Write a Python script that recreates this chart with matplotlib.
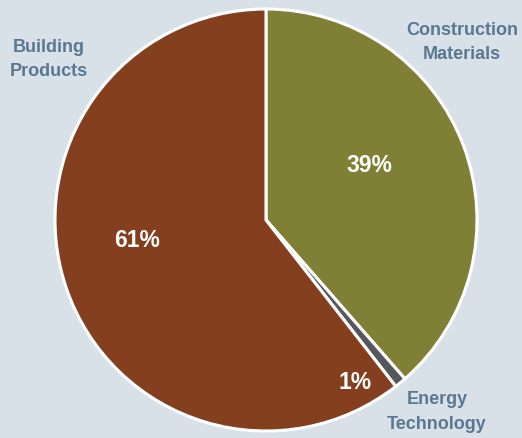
import matplotlib.pyplot as plt

segments = ['Construction\nMaterials', 'Energy\nTechnology', 'Building\nProducts']
shares = [38.6, 0.9, 60.6]
colors = ['#7F7F35', '#55585C', '#843F1F']
pct_labels = ['39%', '1%', '61%']

bg = '#D9E1E8'
label_color = '#5A7891'

fig = plt.figure(figsize=(5.22, 4.38), dpi=100, facecolor=bg)
# pie centre at (266, 220) px, radius 211 px
W, H, cx, cy, r = 522, 438, 266, 220, 211
ax = fig.add_axes([(cx - r) / W, (H - cy - r) / H, 2 * r / W, 2 * r / H])
ax.set_facecolor(bg)

wedges, _ = ax.pie(shares, colors=colors, startangle=90, counterclock=False,
                   radius=1, wedgeprops=dict(edgecolor='white', linewidth=2.2))
for w in wedges:
    w.set_clip_on(False)
ax.set_xlim(-1, 1)
ax.set_ylim(-1, 1)
ax.set_aspect('equal')
ax.axis('off')

# percentage labels inside slices
pct_pos = [(0.49, 0.26), (0.42, -0.77), (-0.61, -0.095)]
for (x, y), t in zip(pct_pos, pct_labels):
    ax.text(x, y, t, color='white', fontsize=16.5, fontweight='bold',
            family='Liberation Sans', ha='center', va='center')

# category labels outside
name_pos = [(0.93, 0.84), (0.81, -0.91), (-1.03, 0.76)]
for (x, y), t in zip(name_pos, segments):
    ax.text(x, y, t, color=label_color, fontsize=13, fontweight='bold',
            family='Liberation Sans', ha='center', va='center', linespacing=1.55)

fig.savefig('out.png', dpi=100, facecolor=bg)
